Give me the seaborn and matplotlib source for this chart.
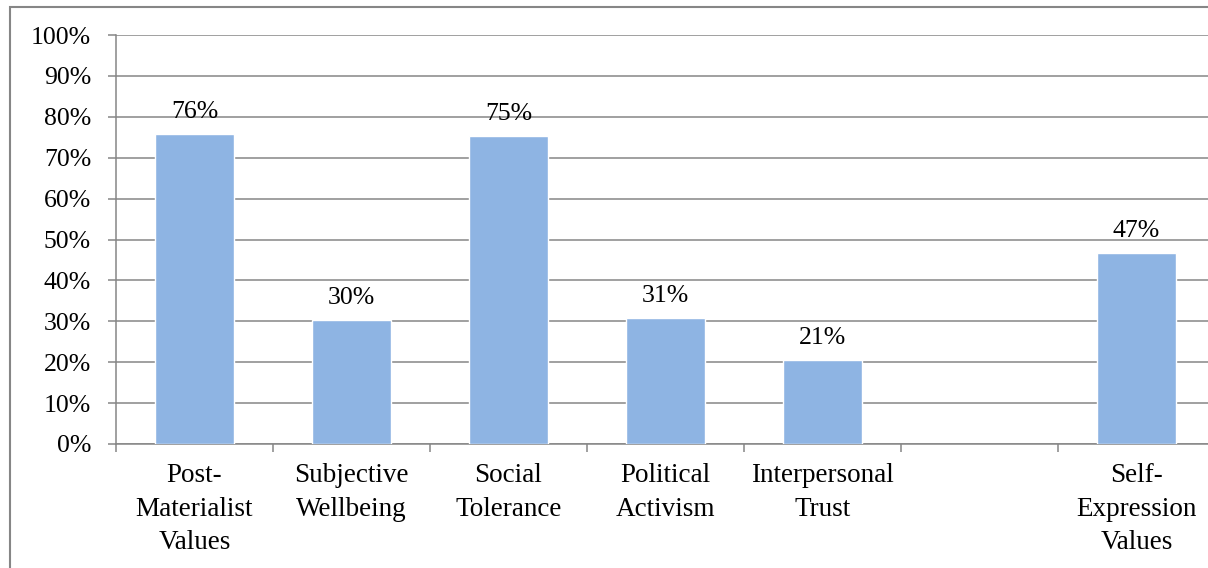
import matplotlib
matplotlib.use("Agg")
import matplotlib.pyplot as plt
import matplotlib.patches as mpatches
from matplotlib.ticker import FixedLocator, FuncFormatter
import seaborn as sns
import pandas as pd

# ---- data ----
categories = ["Post-\nMaterialist\nValues", "Subjective\nWellbeing", "Social\nTolerance",
              "Political\nActivism", "Interpersonal\nTrust", "Self-\nExpression\nValues"]
values = [75.7, 30.4, 75.4, 30.8, 20.6, 46.6]
order = ["Post-\nMaterialist\nValues", "Subjective\nWellbeing", "Social\nTolerance",
         "Political\nActivism", "Interpersonal\nTrust", " ", "Self-\nExpression\nValues"]
y_ticks = [0, 10, 20, 30, 40, 50, 60, 70, 80, 90, 100]
title = "Figure 3: Components of Self-Expression Values (WVS)"

df = pd.DataFrame({"category": categories, "value": values})

sns.set_theme(style="white")
plt.rcParams["font.family"] = ["Liberation Serif", "DejaVu Serif"]

W, H = 1208, 568
fig = plt.figure(figsize=(W / 100, H / 100), dpi=100)
fig.patch.set_facecolor("white")

# outer chart frame (partly off-image)
frame = mpatches.Rectangle((10 / W, -0.1), 2.0, 1 - 7 / H + 0.1, transform=fig.transFigure,
                           fill=False, edgecolor="#868686", linewidth=1.5, zorder=0)
fig.patches.append(frame)

# title, mostly above the visible area as in the reference
fig.text(-2 / W, 1.0 + 5 / H, title, ha="left", va="baseline", fontsize=15,
         fontweight="bold", color="black")

ax = fig.add_axes([116 / W, 124 / H, 1099 / W, 409 / H])
ax.set_facecolor("white")

sns.barplot(data=df, x="category", y="value", order=order, color="#8EB4E3",
            saturation=1, width=0.5, ax=ax, errorbar=None, zorder=3)

ax.set_xlim(-0.5, 6.5)
ax.set_ylim(0, 100)
ax.set_xlabel("")
ax.set_ylabel("")

grid_c = "#868686"
ax.yaxis.set_major_locator(FixedLocator(y_ticks))
ax.yaxis.set_major_formatter(FuncFormatter(lambda v, p: f"{int(v)}%"))
ax.grid(axis="y", color=grid_c, linewidth=1.1, zorder=0)
ax.grid(axis="x", visible=False)
ax.set_axisbelow(True)

for s in ["top", "right"]:
    ax.spines[s].set_visible(False)
for s in ["left", "bottom"]:
    ax.spines[s].set_color(grid_c)
    ax.spines[s].set_linewidth(1.1)

ax.tick_params(axis="y", which="major", length=6, width=1.1, color=grid_c, direction="out",
               pad=12, labelsize=18.5, labelcolor="black", left=True)
ax.xaxis.set_minor_locator(FixedLocator([i - 0.5 for i in range(8)]))
ax.tick_params(axis="x", which="minor", length=6, width=1.1, color=grid_c, direction="out",
               bottom=True)
ax.tick_params(axis="x", which="major", length=0, pad=14, labelsize=19.5, labelcolor="black")
for lab in ax.get_xticklabels():
    lab.set_linespacing(1.43)
    lab.set_ha("center")

# value labels
for i, cat in enumerate(order):
    if cat in categories:
        v = values[categories.index(cat)]
        ax.annotate(f"{v:.0f}%", xy=(i, v), xytext=(0, 8), textcoords="offset points",
                    ha="center", va="bottom", fontsize=18.5, color="black")

fig.savefig("out.png", dpi=100, facecolor="white")
